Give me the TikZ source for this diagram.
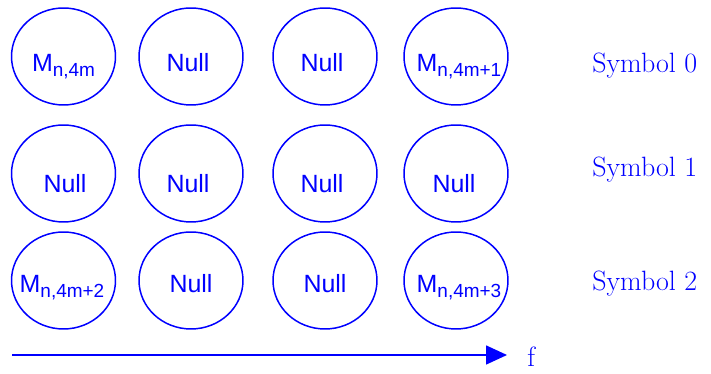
\documentclass[tikz,border=0pt]{standalone}
\usepackage{fontspec}
\usetikzlibrary{shapes.geometric,arrows.meta}
\newfontfamily\cellfont{Liberation Sans}
\definecolor{cblue}{RGB}{0,0,255}

\begin{document}
\begin{tikzpicture}[
    x=0.02cm, y=-0.02cm,
    >={Triangle[length=0.42cm,width=0.38cm]},
    cell/.style={draw=cblue, ellipse, minimum width=2.08cm, minimum height=1.94cm,
                 inner sep=0pt, line width=0.85pt},
    txt/.style={anchor=base, inner sep=0pt, text=cblue,
                font=\cellfont\fontsize{14.2}{16}\selectfont},
    sym/.style={anchor=base west, inner sep=0pt, text=cblue,
                font=\fontsize{15.9}{18}\selectfont},
    arr/.style={->, line width=0.9pt, color=cblue},
  ]
  \useasboundingbox (0,0) rectangle (711,374);

  %% Row 0
  \node[cell] (c00) at (63.5,56.5) {};
  \node[cell] (c01) at (191,56.5) {};
  \node[cell] (c02) at (325,56.5) {};
  \node[cell] (c03) at (456,56.5) {};
  \node[txt] (t00) at (63.5,72) {M\raisebox{-2.4pt}{\fontsize{10.8}{12}\selectfont n,4m}};
  \node[txt] (t01) at (188,72) {Null};
  \node[txt] (t02) at (322,72) {Null};
  \node[txt] (t03) at (459,72) {M\raisebox{-2.4pt}{\fontsize{10.8}{12}\selectfont n,4m+1}};

  %% Row 1
  \node[cell] (c10) at (63.5,173.5) {};
  \node[cell] (c11) at (191,173.5) {};
  \node[cell] (c12) at (325,173.5) {};
  \node[cell] (c13) at (456,173.5) {};
  \node[txt] (t10) at (65,193) {Null};
  \node[txt] (t11) at (188,193) {Null};
  \node[txt] (t12) at (322,193) {Null};
  \node[txt] (t13) at (454,193) {Null};

  %% Row 2
  \node[cell] (c20) at (63.5,280.5) {};
  \node[cell] (c21) at (191,280.5) {};
  \node[cell] (c22) at (325,280.5) {};
  \node[cell] (c23) at (456,280.5) {};
  \node[txt] (t20) at (62,293) {M\raisebox{-2.4pt}{\fontsize{10.8}{12}\selectfont n,4m+2}};
  \node[txt] (t21) at (191,293) {Null};
  \node[txt] (t22) at (325,293) {Null};
  \node[txt] (t23) at (459,293) {M\raisebox{-2.4pt}{\fontsize{10.8}{12}\selectfont n,4m+3}};

  %% Symbol labels
  \node[sym] (s0) at (592,73) {Symbol 0};
  \node[sym] (s1) at (592,177) {Symbol 1};
  \node[sym] (s2) at (592,291) {Symbol 2};

  %% Frequency axis
  \coordinate (f0) at (12,355);
  \coordinate (f1) at (507,355);
  \node[sym] (f) at (527,367) {f};
  \draw[arr] (f0) -- (f1);

\end{tikzpicture}
\end{document}
